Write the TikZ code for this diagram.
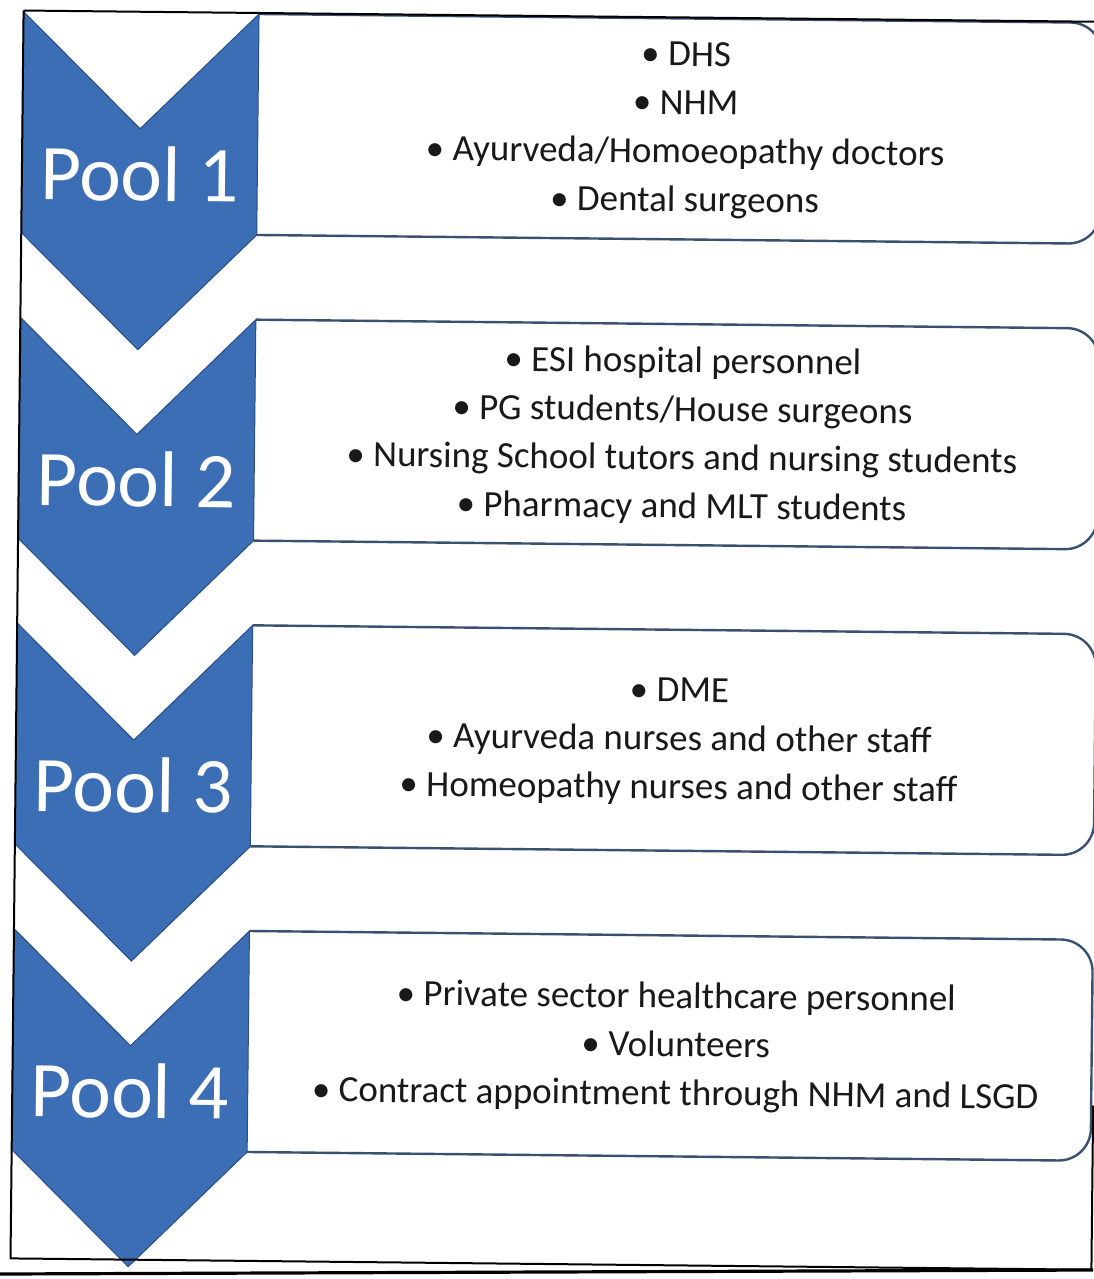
\documentclass[tikz,border=0pt]{standalone}
\usepackage{fontspec}
\setmainfont{Carlito}
\definecolor{chevblue}{RGB}{60,110,182}
\definecolor{chevedge}{RGB}{42,78,135}
\definecolor{boxedge}{RGB}{58,80,112}
\definecolor{ink}{RGB}{25,25,25}
\begin{document}
\begin{tikzpicture}[x=0.5pt,y=-0.5pt,
  chevron/.style={fill=chevblue,draw=chevedge,line width=0.5pt,line join=miter},
  itembox/.style={draw=boxedge,fill=white,line width=1.2pt,rounded corners=16pt},
  pooltext/.style={text=white,font=\fontsize{39.5}{40}\selectfont,inner sep=0pt},
  items/.style={text=ink,font=\fontsize{18.5}{24.25}\selectfont,align=center,inner sep=0pt},
  frameline/.style={draw=black,line width=1pt}]
\useasboundingbox (0,0) rectangle (1093,1279);
\fill[white] (0,0) rectangle (1093,1279);

% geometry of one step: left/centre/right of the chevron, box right edge,
% body height, notch depth
\def\Lx{17}\def\Cx{134.75}\def\Rx{252.5}\def\Bx{1096}
\def\bodyh{221}\def\notch{116}

\begin{scope}[rotate around={-0.6:(546,640)},transform shape]
  \foreach \k/\T in {1/17,2/322.7,3/628.4,4/934.1}{
    % list box with rounded right corners
    \draw[itembox] (\Rx,\T) -- (\Bx,\T) -- (\Bx,\T+\bodyh) -- (\Rx,\T+\bodyh);
    % chevron
    \draw[chevron] (\Lx,\T) -- (\Cx,\T+\notch) -- (\Rx,\T) -- (\Rx,\T+\bodyh)
      -- (\Cx,\T+\bodyh+\notch) -- (\Lx,\T+\bodyh) -- cycle;
    \node[pooltext] (pool\k) at (\Cx,\T+161) {Pool \k};
  }
  \node[items] (list1) at (680,128.5) {• DHS\\• NHM\\• Ayurveda/Homoeopathy doctors\\• Dental surgeons};
  \node[items] (list2) at (680,434.2) {• ESI hospital personnel\\• PG students/House surgeons\\• Nursing School tutors and nursing students\\• Pharmacy and MLT students};
  \node[items] (list3) at (680,740) {• DME\\• Ayurveda nurses and other staff\\• Homeopathy nurses and other staff};
  \node[items] (list4) at (680,1045.6) {• Private sector healthcare personnel\\• Volunteers\\• Contract appointment through NHM and LSGD};
  % outer frame
  \draw[frameline] (\Lx,16) -- (1110,16);
  \draw[frameline] (\Lx,16) -- (\Lx,1264) -- (1098,1264) -- (1098,1100);
\end{scope}
% page edge line under the frame
\draw[line width=1.6pt] (0,1274) -- (1093,1270);
\end{tikzpicture}
\end{document}
